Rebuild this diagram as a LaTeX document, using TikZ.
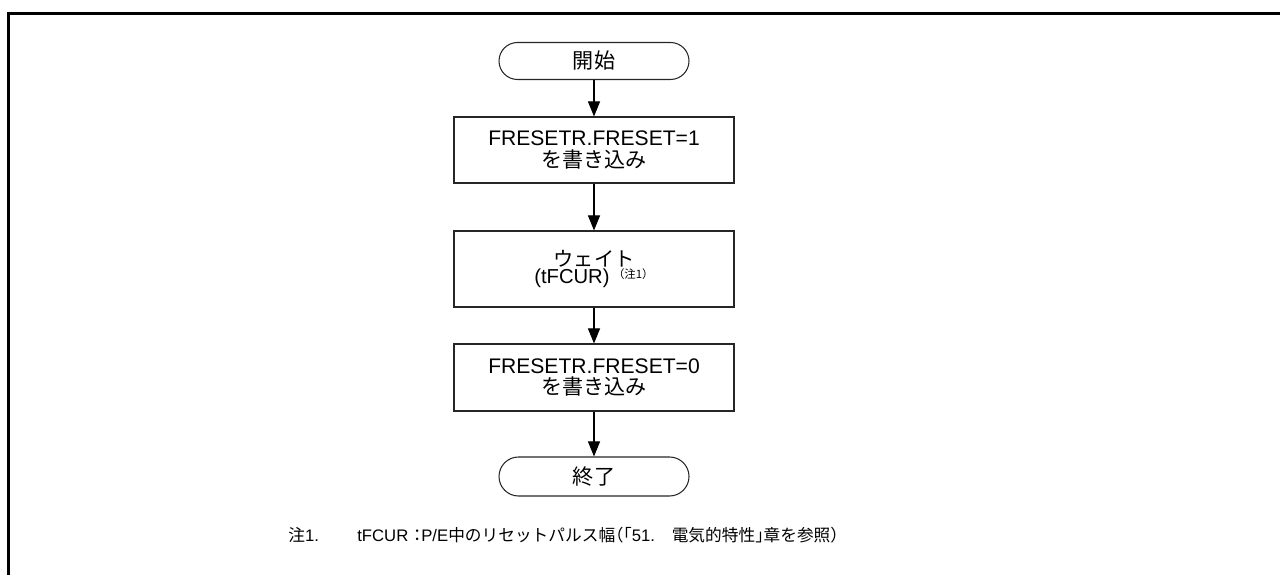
\documentclass[tikz,border=0pt]{standalone}
\usepackage{fontspec}
\setmainfont{Liberation Sans}
\newfontfamily\jp{Noto Sans CJK JP}
\newfontfamily\jpnote{Noto Sans CJK JP}[RawFeature=+halt]
\usetikzlibrary{arrows.meta}

\begin{document}
\begin{tikzpicture}[>={Triangle[length=0.3cm,width=0.24cm]}]
  \tikzset{
    frame/.style={line width=1.9pt,line join=miter},
    terminal/.style={draw=black!85,line width=0.6pt,rounded corners=0.37cm,
      minimum width=3.8cm,minimum height=0.74cm,
      font=\fontsize{12}{12.5}\selectfont\jp},
    process/.style={draw=black!85,line width=0.6pt,minimum width=5.6cm,
      align=center,font=\fontsize{12}{12.5}\selectfont},
    flow/.style={->,line width=0.6pt},
    note/.style={anchor=base west,inner sep=0pt,font=\fontsize{9.5}{11}\selectfont}
  }
  \useasboundingbox (0,0) rectangle (25.6,-11.5);
  \draw[frame] (0.166,-11.5) -- (0.166,-0.274) -- (25.6,-0.274);

  % flow chart
  \node[terminal] (start) at (11.88,-1.22) {開始};
  \node[process,minimum height=1.32cm] (reset1) at (11.88,-3.0)
    {FRESETR.FRESET=1\\{\jp を書き込み}};
  \node[process,minimum height=1.52cm,font=\fontsize{11.5}{9.6}\selectfont] (wait) at (11.88,-5.38)
    {{\jp ウェイト}\\
     (tFCUR)\hspace{2pt}\raisebox{3pt}{\fontsize{6.5}{6.5}\selectfont\jp（注1）}};
  \node[process,minimum height=1.34cm] (reset0) at (11.88,-7.55)
    {FRESETR.FRESET=0\\{\jp を書き込み}};
  \node[terminal,minimum height=0.78cm,rounded corners=0.39cm] (finish) at (11.88,-9.53) {終了};

  \draw[flow] (start) -- (reset1);
  \draw[flow] (reset1) -- (wait);
  \draw[flow] (wait) -- (reset0);
  \draw[flow] (reset0) -- (finish);

  % note
  \node[note] (notemark) at (5.76,-10.84) {{\jp 注}1.};
  \node[note] (notetext) at (7.14,-10.84)
    {tFCUR {\jpnote ：}P/E{\jpnote 中のリセットパルス幅（「}51.{\jpnote 　電気的特性」章を参照）}};
\end{tikzpicture}
\end{document}
